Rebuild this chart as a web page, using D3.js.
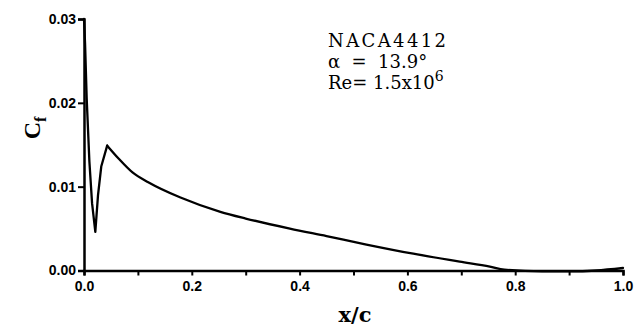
<!DOCTYPE html>
<html><head><meta charset="utf-8">
<script src="https://cdn.jsdelivr.net/npm/d3@7"></script>
<style>body{margin:0;background:#fff}svg{display:block}</style>
</head><body>
<svg id="c" width="635" height="333"></svg>
<script>
const xc = [0, 0.002, 0.005, 0.01, 0.015, 0.021, 0.026, 0.032, 0.043, 0.065, 0.09, 0.12, 0.179, 0.253, 0.30, 0.382, 0.45, 0.524, 0.611, 0.697, 0.753, 0.78, 0.85, 0.9, 0.95, 1.0];
const cf = [0.030, 0.027, 0.0205, 0.013, 0.008, 0.0046, 0.009, 0.0124, 0.0149, 0.0133, 0.0117, 0.0105, 0.0087, 0.0070, 0.0062, 0.0050, 0.0041, 0.0031, 0.002, 0.00105, 0.00045, 0.0001, -0.0001, -0.0001, 0.0, 0.0003];
const xTicks = [0, 0.2, 0.4, 0.6, 0.8, 1.0];
const xMinor = [0.1, 0.3, 0.5, 0.7, 0.9];
const yTicks = [0, 0.01, 0.02, 0.03];
const annot = ["NACA4412", "α  =  13.9°", "Re= 1.5x10"];

const svg = d3.select("#c");
const L = 84, R = 623, T = 19, B = 270.5;
const x = d3.scaleLinear().domain([0, 1]).range([L, R]);
const y = d3.scaleLinear().domain([0, 0.03]).range([B, T]);

const gx = svg.append("g").attr("transform", `translate(0,${B})`)
  .call(d3.axisBottom(x).tickValues(xTicks).tickFormat(d3.format(".1f")).tickSizeOuter(0).tickSize(5).tickPadding(3));
const gxm = svg.append("g").attr("transform", `translate(0,${B})`)
  .call(d3.axisTop(x).tickValues(xMinor).tickFormat("").tickSizeOuter(0).tickSize(-5));
gxm.select(".domain").remove();
const gy = svg.append("g").attr("transform", `translate(${L},0)`)
  .call(d3.axisLeft(y).tickValues(yTicks).tickFormat(d3.format(".2f")).tickSizeOuter(0).tickSize(6).tickPadding(2));
[gx, gy, gxm].forEach(g => {
  g.selectAll(".domain").attr("stroke", "#000").attr("stroke-width", 2.5);
  g.selectAll(".tick line").attr("stroke", "#000").attr("stroke-width", 2);
  g.selectAll(".tick text").attr("fill", "#000")
    .style("font-family", "'Liberation Sans', Arial, sans-serif")
    .style("font-weight", "bold").style("font-size", "14px");
});
gx.selectAll(".tick text").attr("dy", "0.9em");

const pts = xc.map((v, i) => [v, cf[i]]);
const front = pts.slice(0, 9), rear = pts.slice(8);
const lineLin = d3.line().x(d => x(d[0])).y(d => y(d[1]));
const lineSm = d3.line().x(d => x(d[0])).y(d => y(d[1])).curve(d3.curveMonotoneX);
[[front, lineLin], [rear, lineSm]].forEach(([data, gen]) => {
  svg.append("path").datum(data).attr("d", gen)
    .attr("fill", "none").attr("stroke", "#000").attr("stroke-width", 2.3)
    .attr("stroke-linejoin", "round").attr("stroke-linecap", "round");
});

svg.append("text").attr("x", 355).attr("y", 322).attr("text-anchor", "middle")
  .style("font-family", "'DejaVu Serif', serif").style("font-weight", "bold").style("font-size", "21px")
  .text("x/c");

const cfl = svg.append("text").attr("transform", "translate(40,128) rotate(-90)").attr("text-anchor", "middle")
  .style("font-family", "'Liberation Serif', serif").style("font-size", "24px").style("font-weight", "bold");
cfl.append("tspan").text("C");
cfl.append("tspan").attr("dy", 6).style("font-size", "16px").text("f");

const tg = svg.append("g").style("font-family", "'DejaVu Serif', serif").style("font-size", "18px");
tg.append("text").attr("x", 328).attr("y", 47).attr("textLength", 118).text(annot[0]);
tg.append("text").attr("x", 328).attr("y", 68).attr("xml:space", "preserve").style("white-space", "pre").text(annot[1]);
const re = tg.append("text").attr("x", 328).attr("y", 89).text(annot[2]);
re.append("tspan").attr("dy", -8).style("font-size", "14px").text("6");
</script>
</body></html>
